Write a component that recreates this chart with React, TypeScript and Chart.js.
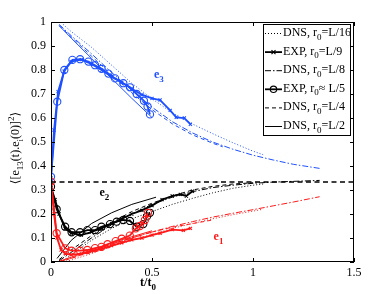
import React, { useEffect, useRef } from 'react';
import { Chart, registerables } from 'chart.js';

Chart.register(...registerables);

type P = [number, number];

const X_TICKS = [0, 0.5, 1, 1.5];
const X_LABELS = ['0', '0.5', '1', '1.5'];
const Y_TICKS = [0, 0.1, 0.2, 0.3, 0.4, 0.5, 0.6, 0.7, 0.8, 0.9, 1];
const Y_LABELS = ['0', '0.1', '0.2', '0.3', '0.4', '0.5', '0.6', '0.7', '0.8', '0.9', '1'];
const ISOTROPIC = 1 / 3;

// e3 (blue)
const e3Dns16: P[] = [[0.06,0.99],[0.1,0.96],[0.2,0.895],[0.3,0.82],[0.4,0.745],[0.5,0.68],[0.6,0.622],[0.7,0.575],[0.8,0.535],[0.9,0.497],[1.0,0.462],[1.05,0.447]];
const e3Exp9: P[] = [[0,0.35],[0.015,0.55],[0.035,0.71],[0.065,0.795],[0.1,0.835],[0.15,0.843],[0.2,0.825],[0.25,0.8],[0.3,0.772],[0.35,0.748],[0.4,0.722],[0.45,0.697],[0.5,0.682],[0.54,0.675],[0.59,0.632],[0.62,0.603],[0.66,0.6],[0.69,0.574]];
const e3Dns8: P[] = [[0.04,0.99],[0.1,0.943],[0.2,0.868],[0.3,0.79],[0.4,0.715],[0.5,0.645],[0.6,0.585],[0.7,0.538],[0.8,0.5],[0.9,0.47],[1.0,0.445],[1.1,0.425],[1.2,0.407],[1.33,0.39]];
const e3Exp5: P[] = [[0,0.355],[0.031,0.668],[0.066,0.8],[0.106,0.842],[0.144,0.845],[0.185,0.835],[0.218,0.82],[0.25,0.805],[0.284,0.785],[0.317,0.765],[0.358,0.745],[0.391,0.728],[0.424,0.7],[0.46,0.672],[0.478,0.648],[0.49,0.615]];
const e3Dns4: P[] = [[0.04,0.985],[0.1,0.938],[0.2,0.858],[0.3,0.78],[0.4,0.705],[0.5,0.635],[0.6,0.576],[0.7,0.53],[0.8,0.495],[0.85,0.48]];
const e3Dns2: P[] = [[0.04,0.985],[0.1,0.933],[0.2,0.849],[0.3,0.765],[0.4,0.682],[0.5,0.602]];

// e2 (black)
const e2Dns16: P[] = [[0.06,0.005],[0.1,0.03],[0.2,0.09],[0.3,0.14],[0.4,0.18],[0.5,0.21],[0.6,0.24],[0.7,0.265],[0.8,0.288],[0.9,0.307],[1.0,0.32],[1.05,0.325]];
const e2Exp9: P[] = [[0,0.31],[0.02,0.26],[0.04,0.2],[0.07,0.14],[0.1,0.12],[0.15,0.112],[0.2,0.125],[0.25,0.14],[0.3,0.16],[0.35,0.18],[0.4,0.2],[0.45,0.215],[0.5,0.235],[0.55,0.26],[0.6,0.275],[0.64,0.282],[0.67,0.275],[0.7,0.295]];
const e2Dns8: P[] = [[0.04,0.005],[0.1,0.04],[0.2,0.1],[0.3,0.155],[0.4,0.2],[0.5,0.24],[0.6,0.27],[0.7,0.293],[0.8,0.31],[0.9,0.32],[1.0,0.328],[1.1,0.333],[1.2,0.336],[1.33,0.34]];
const e2Exp5: P[] = [[0,0.314],[0.028,0.22],[0.07,0.147],[0.102,0.124],[0.144,0.124],[0.18,0.133],[0.218,0.133],[0.25,0.147],[0.292,0.158],[0.325,0.168],[0.358,0.175],[0.391,0.171],[0.424,0.147],[0.457,0.158],[0.475,0.19],[0.49,0.205]];
const e2Dns4: P[] = [[0.04,0.01],[0.1,0.05],[0.15,0.08],[0.2,0.11],[0.3,0.165],[0.4,0.21],[0.5,0.245],[0.6,0.275],[0.7,0.3],[0.8,0.315],[0.9,0.325],[1.0,0.33]];
const e2Dns2: P[] = [[0.03,0.015],[0.1,0.09],[0.2,0.16],[0.3,0.205],[0.4,0.24],[0.5,0.265],[0.52,0.27]];

// e1 (red)
const e1Dns16: P[] = [[0.06,0.0],[0.1,0.008],[0.2,0.035],[0.3,0.065],[0.4,0.09],[0.5,0.115],[0.6,0.14],[0.7,0.16],[0.8,0.18],[0.9,0.197],[1.0,0.212],[1.05,0.22]];
const e1Exp9: P[] = [[0,0.33],[0.015,0.2],[0.03,0.1],[0.05,0.05],[0.07,0.035],[0.1,0.03],[0.15,0.035],[0.2,0.045],[0.25,0.055],[0.3,0.068],[0.35,0.08],[0.4,0.092],[0.45,0.1],[0.5,0.112],[0.54,0.12],[0.6,0.135],[0.655,0.132],[0.69,0.14]];
const e1Dns8: P[] = [[0.04,0.0],[0.1,0.015],[0.2,0.045],[0.3,0.075],[0.4,0.1],[0.5,0.125],[0.6,0.148],[0.7,0.168],[0.8,0.187],[0.9,0.203],[1.0,0.218],[1.1,0.234],[1.2,0.25],[1.33,0.272]];
const e1Exp5: P[] = [[0,0.335],[0.028,0.12],[0.07,0.057],[0.102,0.047],[0.144,0.047],[0.18,0.05],[0.218,0.058],[0.25,0.063],[0.28,0.074],[0.32,0.087],[0.35,0.097],[0.39,0.11],[0.42,0.14],[0.44,0.15],[0.465,0.175],[0.48,0.205]];
const e1Dns4: P[] = [[0.04,0.0],[0.1,0.015],[0.2,0.045],[0.3,0.075],[0.4,0.1],[0.5,0.125],[0.6,0.145],[0.7,0.16],[0.8,0.175]];
const e1Dns2: P[] = [[0.03,0.0],[0.1,0.02],[0.2,0.05],[0.3,0.08],[0.4,0.105],[0.5,0.13]];

const LEGEND_LABELS = ['L/16', 'L/9', 'L/8', 'L/5', 'L/4', 'L/2'];
const LEGEND_KIND = ['DNS', 'EXP', 'DNS', 'EXP', 'DNS', 'DNS'];

const BLUE = 'rgb(30,80,255)';
const BLACK = '#000000';
const RED = 'rgb(255,25,25)';
const SERIF = '"Liberation Serif", "DejaVu Serif", serif';

type Style = 'dot' | 'exp9' | 'dashdot' | 'exp5' | 'dash' | 'solid';
const STYLES: Style[] = ['dot', 'exp9', 'dashdot', 'exp5', 'dash', 'solid'];

function dashFor(s: Style): number[] {
  if (s === 'dot') return [1, 2];
  if (s === 'dashdot') return [6, 2, 1.5, 2];
  if (s === 'dash') return [4, 3];
  return [];
}

function makeDs(data: P[], color: string, s: Style) {
  const isExp = s === 'exp9' || s === 'exp5';
  return {
    data: data.map(([x, y]) => ({ x, y })),
    borderColor: color,
    backgroundColor: 'rgba(0,0,0,0)',
    borderWidth: isExp ? 1.8 : 1,
    borderDash: dashFor(s),
    pointStyle: s === 'exp5' ? 'circle' : 'crossRot',
    pointRadius: s === 'exp5' ? 3.6 : s === 'exp9' ? 2.2 : 0,
    pointBorderWidth: 1.1,
    pointBorderColor: color,
    pointBackgroundColor: 'rgba(0,0,0,0)',
    tension: 0,
    fill: false,
  };
}

type Part = { t: string; sub?: boolean; sup?: boolean };

function drawRich(ctx: CanvasRenderingContext2D, parts: Part[], x: number, y: number, size: number, bold: boolean, color: string, align: 'left' | 'center') {
  const sm = Math.round(size * 0.72);
  const fontOf = (p: Part) => `${bold ? 'bold ' : ''}${p.sub || p.sup ? sm : size}px ${SERIF}`;
  let total = 0;
  for (const p of parts) { ctx.font = fontOf(p); total += ctx.measureText(p.t).width; }
  let cx = align === 'center' ? x - total / 2 : x;
  ctx.fillStyle = color;
  ctx.textBaseline = 'alphabetic';
  ctx.textAlign = 'left';
  for (const p of parts) {
    ctx.font = fontOf(p);
    const dy = p.sub ? size * 0.3 : p.sup ? -size * 0.45 : 0;
    ctx.fillText(p.t, cx, y + dy);
    cx += ctx.measureText(p.t).width;
  }
}

const decorPlugin = {
  id: 'decor',
  afterDatasetsDraw(chart: any) {
    const ctx: CanvasRenderingContext2D = chart.ctx;
    const { left, right, top, bottom } = chart.chartArea;
    const xs = chart.scales.x;
    const ys = chart.scales.y;
    ctx.save();
    ctx.strokeStyle = '#000';
    ctx.lineWidth = 1;
    ctx.setLineDash([]);
    ctx.strokeRect(left + 0.5, top + 0.5, right - left - 1, bottom - top - 1);
    ctx.beginPath();
    for (const v of X_TICKS) {
      const px = Math.round(xs.getPixelForValue(v)) + 0.5;
      ctx.moveTo(px, bottom); ctx.lineTo(px, bottom - 4);
      ctx.moveTo(px, top); ctx.lineTo(px, top + 4);
    }
    for (const v of Y_TICKS) {
      const py = Math.round(ys.getPixelForValue(v)) + 0.5;
      ctx.moveTo(left, py); ctx.lineTo(left + 4, py);
      ctx.moveTo(right, py); ctx.lineTo(right - 4, py);
    }
    ctx.stroke();

    // curve labels
    drawRich(ctx, [{ t: 'e' }, { t: '3', sub: true }], xs.getPixelForValue(0.51), ys.getPixelForValue(0.765), 12, true, BLUE, 'left');
    drawRich(ctx, [{ t: 'e' }, { t: '2', sub: true }], xs.getPixelForValue(0.24), ys.getPixelForValue(0.275), 12, true, BLACK, 'left');
    drawRich(ctx, [{ t: 'e' }, { t: '1', sub: true }], xs.getPixelForValue(0.805), ys.getPixelForValue(0.09), 12, true, RED, 'left');

    // legend
    const lx0 = 263, ly0 = 24, lx1 = 350, ly1 = 135;
    ctx.fillStyle = '#fff';
    ctx.fillRect(lx0, ly0, lx1 - lx0, ly1 - ly0);
    ctx.strokeStyle = '#000';
    ctx.lineWidth = 1;
    ctx.strokeRect(lx0 + 0.5, ly0 + 0.5, lx1 - lx0, ly1 - ly0);
    for (let i = 0; i < STYLES.length; i++) {
      const s = STYLES[i];
      const cy = ly0 + 9 + i * 18.6;
      const isExp = s === 'exp9' || s === 'exp5';
      ctx.strokeStyle = '#000';
      ctx.lineWidth = isExp ? 1.8 : 1;
      ctx.setLineDash(dashFor(s));
      ctx.beginPath();
      ctx.moveTo(265, cy + 0.5); ctx.lineTo(282, cy + 0.5);
      ctx.stroke();
      ctx.setLineDash([]);
      ctx.lineWidth = 1.1;
      if (s === 'exp5') {
        ctx.beginPath(); ctx.arc(273.5, cy + 0.5, 3.2, 0, Math.PI * 2); ctx.stroke();
      } else if (s === 'exp9') {
        ctx.beginPath();
        ctx.moveTo(271.5, cy - 1.5); ctx.lineTo(275.5, cy + 2.5);
        ctx.moveTo(271.5, cy + 2.5); ctx.lineTo(275.5, cy - 1.5);
        ctx.stroke();
      }
      const eq = i === 3 ? '\u2248 ' : '=';
      drawRich(ctx, [{ t: LEGEND_KIND[i] + ', r' }, { t: '0', sub: true }, { t: eq + LEGEND_LABELS[i] }], 283, cy + 3, 12, false, '#000', 'left');
    }

    // axis titles
    drawRich(ctx, [{ t: 't/t' }, { t: '0', sub: true }], 148, 286, 12, true, '#000', 'center');
    ctx.save();
    ctx.translate(19, 148);
    ctx.rotate(-Math.PI / 2);
    drawRich(ctx, [{ t: '\u27E8[e' }, { t: '13', sub: true }, { t: '(t).e' }, { t: 'i', sub: true }, { t: '(0)]' }, { t: '2', sup: true }, { t: '\u27E9' }], 0, 0, 12, false, '#000', 'center');
    ctx.restore();
    ctx.restore();
  },
};

export default function App() {
  const ref = useRef<HTMLCanvasElement | null>(null);
  useEffect(() => {
    if (!ref.current) return;
    const datasets: any[] = [];
    const groups: [P[][], string][] = [
      [[e1Dns16, e1Exp9, e1Dns8, e1Exp5, e1Dns4, e1Dns2], RED],
      [[e2Dns16, e2Exp9, e2Dns8, e2Exp5, e2Dns4, e2Dns2], BLACK],
      [[e3Dns16, e3Exp9, e3Dns8, e3Exp5, e3Dns4, e3Dns2], BLUE],
    ];
    for (const [sets, color] of groups) {
      sets.forEach((d, i) => datasets.push(makeDs(d, color, STYLES[i])));
    }
    datasets.unshift({
      data: [{ x: 0, y: ISOTROPIC }, { x: 1.5, y: ISOTROPIC }],
      borderColor: '#000', borderWidth: 1.4, borderDash: [5, 3.5], pointRadius: 0, fill: false,
    });
    const chart = new Chart(ref.current, {
      type: 'line',
      data: { datasets },
      options: {
        responsive: false,
        animation: false,
        devicePixelRatio: 1,
        layout: { padding: { left: 0, right: 36, top: 22, bottom: 0 } },
        plugins: { legend: { display: false }, tooltip: { enabled: false } },
        scales: {
          x: {
            type: 'linear', min: 0, max: 1.5,
            afterBuildTicks: (s: any) => { s.ticks = X_TICKS.map((v) => ({ value: v })); },
            afterFit: (s: any) => { s.height = 32; },
            grid: { display: false, drawTicks: false },
            border: { display: false },
            ticks: {
              color: '#000', padding: 4, maxRotation: 0,
              font: { family: SERIF, size: 12 },
              callback: (v: any) => { const i = X_TICKS.indexOf(Number(v)); return i >= 0 ? X_LABELS[i] : ''; },
            },
          },
          y: {
            type: 'linear', min: 0, max: 1,
            afterBuildTicks: (s: any) => { s.ticks = Y_TICKS.map((v) => ({ value: v })); },
            afterFit: (s: any) => { s.width = 51; },
            grid: { display: false, drawTicks: false },
            border: { display: false },
            ticks: {
              color: '#000', padding: 5,
              font: { family: SERIF, size: 12 },
              callback: (v: any) => { const i = Y_TICKS.findIndex((t) => Math.abs(t - Number(v)) < 1e-9); return i >= 0 ? Y_LABELS[i] : ''; },
            },
          },
        },
      },
      plugins: [decorPlugin],
    } as any);
    return () => chart.destroy();
  }, []);
  return (
    <div style={{ position: 'absolute', left: 0, top: 0, width: 390, height: 294, background: '#fff' }}>
      <canvas ref={ref} width={390} height={294} />
    </div>
  );
}
